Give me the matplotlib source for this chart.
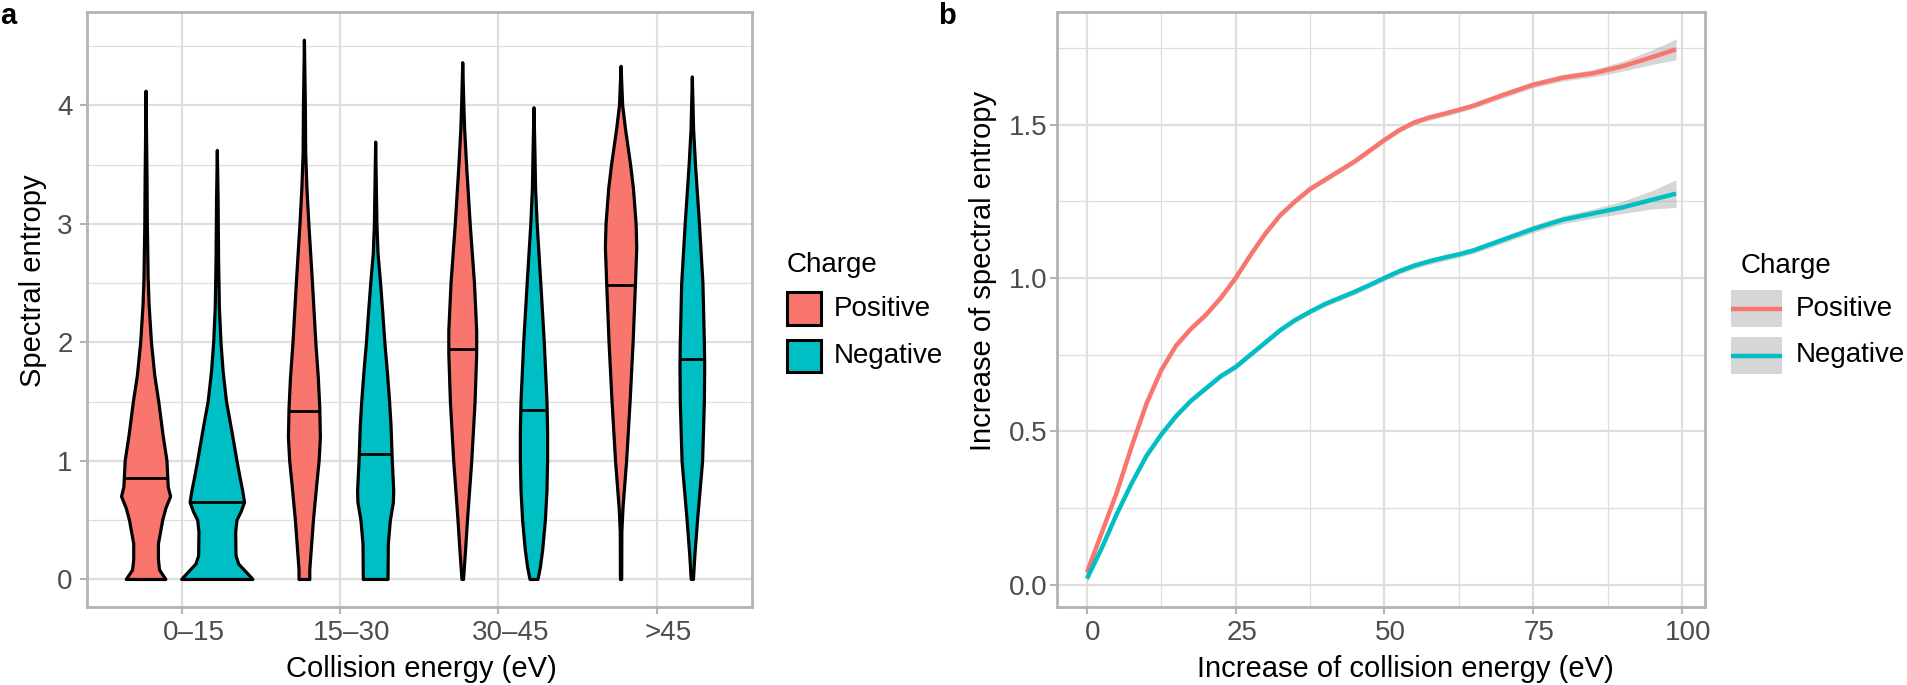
import numpy as np
import matplotlib
matplotlib.use('Agg')
import matplotlib.pyplot as plt
import matplotlib.transforms as mtrans
from matplotlib.patches import Rectangle
from matplotlib.lines import Line2D

plt.rcParams['font.family'] = ['Liberation Sans', 'DejaVu Sans']

W, H = 1908, 685
pos_color = '#F8766D'
neg_color = '#00BFC4'
grid_col = '#DEDEDE'
border_col = '#B3B3B3'
tick_col = '#4D4D4D'

# ---- panel a: violin outlines (height, half width) ----
groups = ['0\u201315', '15\u201330', '30\u201345', '>45']

pos1_y = [0, 0.03, 0.08, 0.17, 0.3, 0.5, 0.6, 0.7, 0.78, 1.0, 1.22, 1.5, 1.72, 2.0, 2.32, 2.55, 3.0, 3.38, 4.12]
pos1_w = [0.125, 0.11, 0.085, 0.078, 0.078, 0.105, 0.125, 0.155, 0.14, 0.132, 0.107, 0.08, 0.055, 0.034, 0.019, 0.013, 0.008, 0.006, 0]
neg1_y = [0, 0.03, 0.08, 0.13, 0.2, 0.4, 0.5, 0.57, 0.65, 0.75, 0.85, 1.0, 1.25, 1.5, 1.75, 2.0, 2.3, 2.7, 3.2, 3.62]
neg1_w = [0.225, 0.205, 0.17, 0.135, 0.118, 0.116, 0.124, 0.15, 0.172, 0.16, 0.145, 0.124, 0.092, 0.058, 0.037, 0.023, 0.013, 0.008, 0.005, 0]

pos2_y = [0, 0.08, 0.5, 0.8, 1.0, 1.2, 1.45, 1.7, 2.0, 2.5, 3.0, 3.3, 3.6, 4.0, 4.55]
pos2_w = [0.034, 0.034, 0.057, 0.078, 0.093, 0.101, 0.097, 0.088, 0.072, 0.051, 0.028, 0.016, 0.008, 0.006, 0]
neg2_y = [0, 0.3, 0.5, 0.65, 0.75, 1.0, 1.3, 1.5, 1.75, 2.0, 2.25, 2.5, 2.75, 3.0, 3.69]
neg2_w = [0.078, 0.08, 0.093, 0.112, 0.114, 0.105, 0.097, 0.088, 0.074, 0.058, 0.045, 0.031, 0.015, 0.008, 0]

pos3_y = [0, 0.25, 0.5, 1.0, 1.5, 1.9, 2.1, 2.5, 3.0, 3.5, 3.8, 4.0, 4.36]
pos3_w = [0.005, 0.018, 0.03, 0.057, 0.078, 0.088, 0.088, 0.074, 0.047, 0.024, 0.012, 0.007, 0]
neg3_y = [0, 0.1, 0.25, 0.5, 0.75, 1.0, 1.25, 1.5, 2.0, 2.5, 3.0, 3.3, 3.6, 3.98]
neg3_w = [0.025, 0.04, 0.055, 0.072, 0.082, 0.086, 0.086, 0.082, 0.065, 0.043, 0.02, 0.01, 0.006, 0]

pos4_y = [0, 0.4, 0.6, 1.0, 1.5, 2.0, 2.5, 2.8, 3.0, 3.3, 3.5, 3.8, 4.0, 4.33]
pos4_w = [0.004, 0.005, 0.012, 0.035, 0.057, 0.076, 0.091, 0.099, 0.095, 0.078, 0.06, 0.028, 0.01, 0]
neg4_y = [0, 0.2, 0.5, 1.0, 1.5, 1.8, 2.0, 2.5, 3.0, 3.5, 3.8, 4.24]
neg4_w = [0.007, 0.016, 0.033, 0.065, 0.076, 0.078, 0.076, 0.067, 0.045, 0.02, 0.008, 0]

pos_median = [0.854, 1.424, 1.944, 2.483]
neg_median = [0.656, 1.06, 1.434, 1.861]

# ---- panel b: smoothed curves ----
ce_inc = [0, 2.5, 5, 7.5, 10, 12.5, 15, 17.5, 20, 22.5, 25, 27.5, 30, 32.5, 35, 37.5, 40, 42.5, 45, 47.5,
          50, 52.5, 55, 57.5, 60, 62.5, 65, 70, 75, 80, 85, 90, 95, 99]
pos_inc = [0.04, 0.17, 0.30, 0.45, 0.59, 0.70, 0.78, 0.835, 0.88, 0.935, 1.0, 1.075, 1.145, 1.205,
           1.25, 1.29, 1.32, 1.35, 1.38, 1.415, 1.45, 1.482, 1.507, 1.523, 1.535, 1.548, 1.562,
           1.597, 1.63, 1.653, 1.667, 1.69, 1.72, 1.745]
neg_inc = [0.02, 0.12, 0.23, 0.33, 0.42, 0.49, 0.55, 0.60, 0.64, 0.68, 0.71, 0.75, 0.79, 0.83,
           0.863, 0.89, 0.915, 0.935, 0.955, 0.977, 1.0, 1.022, 1.04, 1.054, 1.066, 1.077, 1.09,
           1.125, 1.16, 1.19, 1.21, 1.23, 1.255, 1.275]
pos_se = [0.012, 0.01, 0.009, 0.008, 0.008, 0.008, 0.008, 0.008, 0.008, 0.008, 0.008, 0.008, 0.008, 0.008,
          0.008, 0.008, 0.008, 0.008, 0.008, 0.008, 0.008, 0.008, 0.008, 0.009, 0.009, 0.009, 0.009,
          0.01, 0.01, 0.011, 0.012, 0.016, 0.024, 0.034]
neg_se = [0.012, 0.01, 0.009, 0.008, 0.008, 0.008, 0.008, 0.008, 0.008, 0.008, 0.008, 0.008, 0.008, 0.008,
          0.008, 0.008, 0.008, 0.009, 0.009, 0.009, 0.009, 0.01, 0.01, 0.01, 0.01, 0.01, 0.01,
          0.011, 0.012, 0.013, 0.015, 0.02, 0.03, 0.045]


def fx(px):
    return px / W


def fy(py):
    return 1 - py / H


def style_axes(ax):
    for s in ax.spines.values():
        s.set_color(border_col)
        s.set_linewidth(2)
    ax.tick_params(which='major', color=border_col, width=1.5, length=5,
                   labelcolor=tick_col, labelsize=20)
    ax.tick_params(which='minor', length=0)
    ax.grid(which='major', color=grid_col, lw=1.6, zorder=0)
    ax.grid(which='minor', color=grid_col, lw=0.9, zorder=0)
    ax.set_axisbelow(True)


def violin(ax, center, ys, ws, med, color):
    ys = np.array(ys)
    ws = np.array(ws)
    xs = np.concatenate([center - ws, (center + ws)[::-1]])
    yy = np.concatenate([ys, ys[::-1]])
    ax.fill(xs, yy, facecolor=color, edgecolor='black', linewidth=2.3, joinstyle='round', zorder=3)
    mw = np.interp(med, ys, ws)
    ax.plot([center - mw, center + mw], [med, med], color='black', lw=2, zorder=4, solid_capstyle='butt')


fig = plt.figure(figsize=(W / 100, H / 100), dpi=100)

# panel a
ax1 = fig.add_axes([fx(86.7), fy(606.5), fx(751.7 - 86.7), (606.5 - 12) / H])
style_axes(ax1)
pos_y = [pos1_y, pos2_y, pos3_y, pos4_y]
pos_w = [pos1_w, pos2_w, pos3_w, pos4_w]
neg_y = [neg1_y, neg2_y, neg3_y, neg4_y]
neg_w = [neg1_w, neg2_w, neg3_w, neg4_w]
for i in range(4):
    violin(ax1, i + 1 - 0.225, pos_y[i], pos_w[i], pos_median[i], pos_color)
    violin(ax1, i + 1 + 0.225, neg_y[i], neg_w[i], neg_median[i], neg_color)
ax1.set_xlim(0.4, 4.6)
ax1.set_ylim(-0.228, 4.788)
ax1.set_xticks([1, 2, 3, 4])
ax1.set_xticklabels(groups)
ax1.set_yticks([0, 1, 2, 3, 4])
ax1.set_yticks([0.5, 1.5, 2.5, 3.5, 4.5], minor=True)
ax1.grid(which='minor', axis='x', visible=False)
ax1.tick_params(axis='x', pad=5)
ax1.tick_params(axis='y', pad=5)
off = mtrans.ScaledTranslation(12 / 100, 0, fig.dpi_scale_trans)
for lab in ax1.get_xticklabels():
    lab.set_transform(lab.get_transform() + off)

# panel b
ax2 = fig.add_axes([fx(1057.5), fy(606.5), fx(1705.5 - 1057.5), (606.5 - 12) / H])
style_axes(ax2)
x = np.array(ce_inc)
for yv, se, col in [(pos_inc, pos_se, pos_color), (neg_inc, neg_se, neg_color)]:
    yv = np.array(yv)
    se = np.array(se)
    ax2.fill_between(x, yv - se, yv + se, color='#999999', alpha=0.4, lw=0, zorder=2)
    ax2.plot(x, yv, color=col, lw=3.2, zorder=3, solid_capstyle='butt', solid_joinstyle='round')
ax2.set_xlim(-4.95, 103.95)
ax2.set_ylim(-0.071, 1.867)
ax2.set_xticks([0, 25, 50, 75, 100])
ax2.set_xticks([12.5, 37.5, 62.5, 87.5], minor=True)
ax2.set_yticks([0, 0.5, 1.0, 1.5])
ax2.set_yticklabels(['0.0', '0.5', '1.0', '1.5'])
ax2.set_yticks([0.25, 0.75, 1.25, 1.75], minor=True)
ax2.tick_params(axis='x', pad=5)
ax2.tick_params(axis='y', pad=2)
off2 = mtrans.ScaledTranslation(6 / 100, 0, fig.dpi_scale_trans)
for lab in ax2.get_xticklabels():
    lab.set_transform(lab.get_transform() + off2)

# axis titles
fig.text(fx(33), fy(281), 'Spectral entropy', rotation=90, ha='center', va='center', fontsize=21)
fig.text(fx(421), fy(677), 'Collision energy (eV)', ha='center', va='baseline', fontsize=21)
fig.text(fx(983), fy(271), 'Increase of spectral entropy', rotation=90, ha='center', va='center', fontsize=21)
fig.text(fx(1405), fy(677), 'Increase of collision energy (eV)', ha='center', va='baseline', fontsize=21)

# panel letters
fig.text(fx(0), fy(24), 'a', fontsize=21, fontweight='bold', va='baseline')
fig.text(fx(938), fy(24), 'b', fontsize=21, fontweight='bold', va='baseline')

# legend a
fig.text(fx(787), fy(272), 'Charge', fontsize=20, va='baseline')
for (top, bot), col, name in [((292, 325), pos_color, 'Positive'), ((340, 372), neg_color, 'Negative')]:
    fig.add_artist(Rectangle((fx(787), fy(bot)), fx(821 - 787), (bot - top) / H,
                             transform=fig.transFigure, facecolor=col, edgecolor='black', lw=2.2))
    fig.text(fx(834), fy((top + bot) / 2), name, fontsize=20, va='center')

# legend b
fig.text(fx(1741), fy(273), 'Charge', fontsize=20, va='baseline')
for (top, bot), col, name in [((290, 327), pos_color, 'Positive'), ((337, 374), neg_color, 'Negative')]:
    fig.add_artist(Rectangle((fx(1731), fy(bot)), fx(1782 - 1731), (bot - top) / H,
                             transform=fig.transFigure, facecolor='#999999', alpha=0.4, lw=0))
    mid = fy((top + bot) / 2)
    fig.add_artist(Line2D([fx(1731), fx(1782)], [mid, mid], transform=fig.transFigure,
                          color=col, lw=3.2, solid_capstyle='butt'))
    fig.text(fx(1796), mid, name, fontsize=20, va='center')

fig.savefig('out.png', dpi=100)
